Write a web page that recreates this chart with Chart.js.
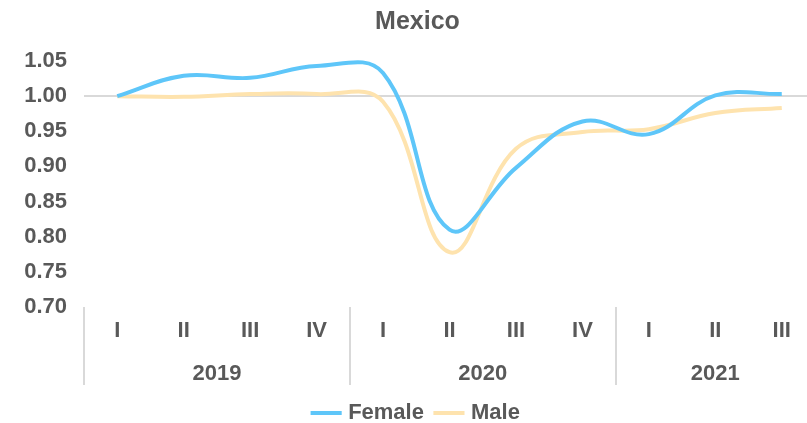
<!DOCTYPE html>
<html>
<head>
<meta charset="utf-8">
<script src="https://cdn.jsdelivr.net/npm/chart.js@4"></script>
<style>
  html, body { margin: 0; padding: 0; background: #fff; overflow: hidden; }
</style>
</head>
<body>
<canvas id="chart" width="815" height="423"></canvas>
<script>
// quarters for each point, and how many quarters each year has
const quarters = ['I', 'II', 'III', 'IV', 'I', 'II', 'III', 'IV', 'I', 'II', 'III'];
const years = ['2019', '2020', '2021'];
const quartersPerYear = [4, 4, 3];

const female = [1.000, 1.029, 1.026, 1.043, 1.033, 0.810, 0.898, 0.964, 0.946, 1.001, 1.003];
const male = [1.000, 0.999, 1.003, 1.003, 0.992, 0.778, 0.925, 0.949, 0.953, 0.976, 0.983];

const yTicks = [0.70, 0.75, 0.80, 0.85, 0.90, 0.95, 1.00, 1.05];

// index where each year starts, and the centre of each year group
const yearStarts = [];
const yearCenters = [];
let start = 0;
quartersPerYear.forEach(n => {
  yearStarts.push(start);
  yearCenters.push(start + (n - 1) / 2);
  start += n;
});

const textColor = '#595959';
const lineGray = '#d9d9d9';
const font = { family: '"Liberation Sans", Arial, sans-serif', size: 22, weight: 'bold' };

new Chart(document.getElementById('chart'), {
  type: 'line',
  data: {
    labels: quarters,
    datasets: [
      {
        label: 'Female',
        data: female,
        borderColor: '#5ec6f9',
        backgroundColor: '#5ec6f9',
        borderWidth: 4,
        pointRadius: 0,
        tension: 0.4,
        fill: false,
        clip: false
      },
      {
        label: 'Male',
        data: male,
        borderColor: '#fee3ae',
        backgroundColor: '#fee3ae',
        borderWidth: 4,
        pointRadius: 0,
        tension: 0.4,
        fill: false,
        clip: false
      }
    ]
  },
  options: {
    responsive: false,
    animation: false,
    devicePixelRatio: 1,
    layout: { padding: { left: 20, right: 0, top: 0, bottom: 0 } },
    elements: { line: { capBezierPoints: false } },
    scales: {
      x: {
        type: 'category',
        offset: true,
        grid: {
          offset: true,
          drawOnChartArea: false,
          tickLength: 78,
          lineWidth: 2,
          color: ctx => yearStarts.includes(ctx.index) ? lineGray : 'rgba(0,0,0,0)'
        },
        border: { display: false },
        ticks: {
          color: textColor,
          font: font,
          padding: -67,
          autoSkip: false,
          maxRotation: 0
        },
        afterFit: s => { s.height = 45; }
      },
      x2: {
        type: 'linear',
        position: 'bottom',
        min: -0.5,
        max: quarters.length - 0.5,
        afterBuildTicks: s => { s.ticks = yearCenters.map(v => ({ value: v })); },
        grid: { display: false, drawTicks: false },
        border: { display: false },
        ticks: {
          color: textColor,
          font: font,
          padding: 9,
          autoSkip: false,
          maxRotation: 0,
          callback: (v, i) => years[i]
        },
        afterFit: s => { s.height = 36; }
      },
      y: {
        min: 0.70,
        max: 1.05,
        afterBuildTicks: s => { s.ticks = yTicks.map(v => ({ value: v })); },
        grid: {
          drawTicks: false,
          lineWidth: 2,
          color: ctx => Math.abs(ctx.tick.value - 1) < 1e-6 ? lineGray : 'rgba(0,0,0,0)'
        },
        border: { display: false },
        ticks: {
          color: textColor,
          font: font,
          padding: 17,
          callback: v => v.toFixed(2)
        },
        afterFit: s => { s.width = 64; }
      }
    },
    plugins: {
      title: {
        display: true,
        text: 'Mexico',
        color: textColor,
        font: { family: '"Liberation Sans", Arial, sans-serif', size: 25, weight: 'bold' },
        padding: { top: 7, bottom: 24 }
      },
      legend: {
        position: 'bottom',
        maxHeight: 35,
        labels: {
          usePointStyle: true,
          pointStyle: 'line',
          boxWidth: 22,
          color: textColor,
          font: font,
          padding: 14
        }
      },
      tooltip: { enabled: false }
    }
  }
});
</script>
</body>
</html>
